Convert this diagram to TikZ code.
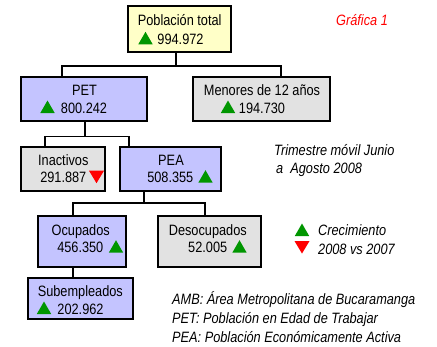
\documentclass[tikz,border=0pt]{standalone}
\usepackage{fontspec}
\setmainfont[FakeStretch=0.85]{Liberation Sans}
\definecolor{popyellow}{HTML}{FFFFC8}
\definecolor{boxblue}{HTML}{C4C4FF}
\definecolor{boxgray}{HTML}{E2E2E2}
\definecolor{upgreen}{HTML}{009600}
\definecolor{downred}{HTML}{FF0000}
\tikzset{
  box/.style={draw=black, line width=2pt, rectangle, inner sep=0pt},
  yellowbox/.style={box, fill=popyellow},
  bluebox/.style={box, fill=boxblue},
  graybox/.style={box, fill=boxgray},
  conn/.style={draw=black, line width=1.2pt},
  lbl/.style={anchor=base, inner sep=0pt, font=\fontsize{15}{17}\selectfont},
  note/.style={anchor=base west, inner sep=0pt, font=\fontsize{15}{17}\selectfont\itshape},
  upt/.pic={\fill[upgreen] (-7.2,0) -- (7.2,0) -- (0,-12.5) -- cycle;},
  dnt/.pic={\fill[downred] (-7.5,0) -- (7.5,0) -- (0,12.5) -- cycle;}
}
\begin{document}
\begin{tikzpicture}[x=1pt, y=-1pt]
\useasboundingbox[fill=white] (0,0) rectangle (437,346);
% boxes
\node[yellowbox, minimum width=103pt, minimum height=46pt] (pob) at (179.5,29) {};
\node[bluebox, minimum width=126.5pt, minimum height=44pt] (pet) at (83.75,99) {};
\node[graybox, minimum width=137pt, minimum height=44pt] (men) at (261.5,99) {};
\node[graybox, minimum width=84pt, minimum height=44.5pt] (ina) at (63,168.75) {};
\node[bluebox, minimum width=101pt, minimum height=44.5pt] (pea) at (170.5,168.75) {};
\node[bluebox, minimum width=88pt, minimum height=51pt] (ocu) at (82,241.5) {};
\node[graybox, minimum width=103pt, minimum height=51pt] (des) at (209.5,241.5) {};
\node[bluebox, minimum width=105pt, minimum height=41pt] (sub) at (80.5,298.5) {};
% connectors
\draw[conn] ([xshift=-3.5pt]pob.south) -- ([xshift=-3.5pt]pob.south |- 0,66);
\draw[conn] ([xshift=-21.75pt]pet.north) -- ([xshift=-21.75pt]pet.north |- 0,66)
  -- ([xshift=19.5pt]men.north |- 0,66) -- ([xshift=19.5pt]men.north);
\draw[conn] ([xshift=1.25pt]pet.south) -- ([xshift=1.25pt]pet.south |- 0,136.5);
\draw[conn] ([xshift=-18pt]ina.north) -- ([xshift=-18pt]ina.north |- 0,136.5)
  -- ([xshift=-41.5pt]pea.north |- 0,136.5) -- ([xshift=-41.5pt]pea.north);
\draw[conn] ([xshift=-26.5pt]pea.south) -- ([xshift=-26.5pt]pea.south |- 0,203);
\draw[conn] ([xshift=-9pt]ocu.north) -- ([xshift=-9pt]ocu.north |- 0,203)
  -- ([xshift=-4.5pt]des.north |- 0,203) -- ([xshift=-4.5pt]des.north);
\draw[conn] ([xshift=-9pt]ocu.south) -- ([xshift=-7.5pt]sub.north);
% box texts
\node[lbl] (t1) at (179.7,25) {Población total};
\node[lbl] (t2) at (180.5,44) {994.972};
\node[lbl] (t3) at (84.5,95) {PET};
\node[lbl] (t4) at (84,113) {800.242};
\node[lbl] (t5) at (262,95.5) {Menores de 12 años};
\node[lbl] (t6) at (262,113) {194.730};
\node[lbl] (t7) at (63.3,165) {Inactivos};
\node[lbl] (t8) at (63.3,182.7) {291.887};
\node[lbl] (t9) at (171,165) {PEA};
\node[lbl] (t10) at (170.3,182.7) {508.355};
\node[lbl] (t11) at (80.7,235) {Ocupados};
\node[lbl] (t12) at (80.3,252.7) {456.350};
\node[lbl] (t13) at (207.8,235) {Desocupados};
\node[lbl] (t14) at (207.7,252.7) {52.005};
\node[lbl] (t15) at (80.3,296.7) {Subempleados};
\node[lbl] (t16) at (80.5,314) {202.962};
% triangles
\pic at (145.5,44.3) {upt};
\pic at (47.5,113) {upt};
\pic at (228,113) {upt};
\pic at (96.5,170.7) {dnt};
\pic at (205.5,182.7) {upt};
\pic at (116,252.7) {upt};
\pic at (239.5,252.7) {upt};
\pic at (44,314) {upt};
\pic at (302,236) {upt};
\pic at (302,241) {dnt};
% notes
\node[lbl, font=\fontsize{15}{17}\selectfont\itshape, text=downred] (graf) at (362,25) {Gráfica 1};
\node[note] (n1) at (274,155.7) {Trimestre móvil Junio};
\node[note] (n2) at (276,173.3) {a\ \ Agosto 2008};
\node[note] (n3) at (318,235.7) {Crecimiento};
\node[note] (n4) at (318,254) {2008 vs 2007};
\node[note] (n5) at (172,304) {AMB: Área Metropolitana de Bucaramanga};
\node[note] (n6) at (172,323.3) {PET: Población en Edad de Trabajar};
\node[note] (n7) at (172,342.3) {PEA: Población Económicamente Activa};
\end{tikzpicture}
\end{document}
